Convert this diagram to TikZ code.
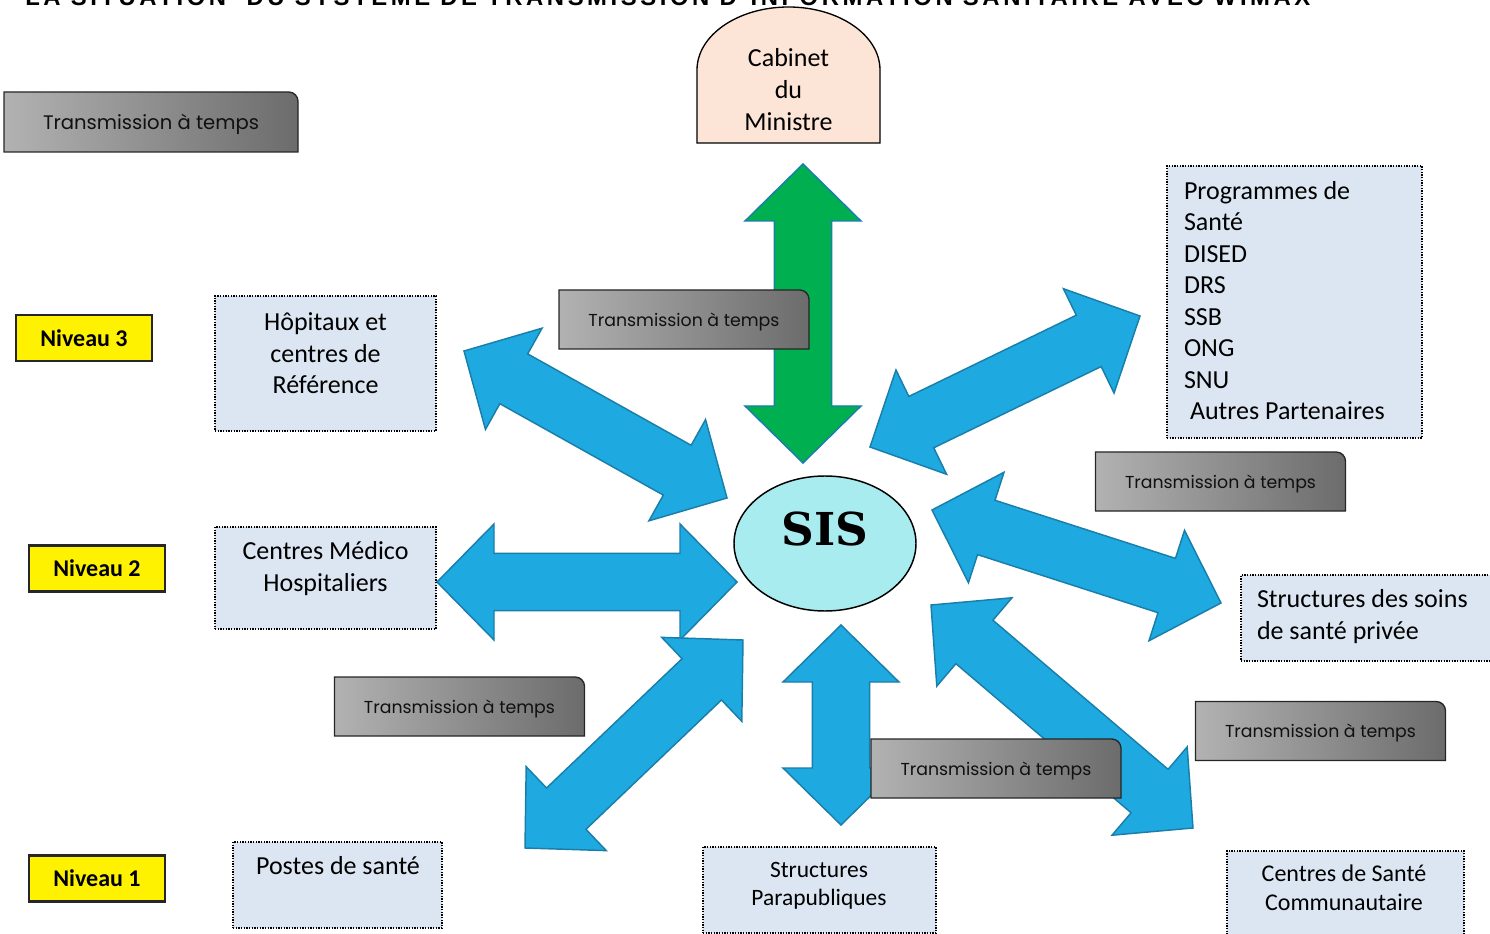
\documentclass[tikz,border=0pt]{standalone}
\usepackage{graphicx}
\usepackage{fontspec}
\setmainfont{Carlito}
\newfontfamily\tfont{Poppins}
\newfontfamily\sisfont{DejaVu Serif}
\newfontfamily\titlefont{Liberation Sans}[LetterSpace=15]
\usetikzlibrary{calc,shapes.geometric}
\pgfdeclarelayer{arrowlayer}
\pgfdeclarelayer{boxlayer}
\pgfsetlayers{arrowlayer,boxlayer,main}

\definecolor{abl}{HTML}{1EAAE0}
\definecolor{abd}{HTML}{1A7EAA}
\definecolor{agr}{HTML}{00B050}
\definecolor{boxfill}{HTML}{DCE6F2}
\definecolor{sisfill}{HTML}{A8ECEF}
\definecolor{cabfill}{HTML}{FCE4D6}
\definecolor{tleft}{HTML}{B2B2B2}
\definecolor{tright}{HTML}{6C6C6C}
\definecolor{ttext}{HTML}{101010}

% block double arrow geometry: head length, head half width, shaft half width
\def\ahl{42.75pt}
\def\ahw{43.5pt}
\def\asw{21.4pt}

\newcommand\lnstrut{\rule{0pt}{1em}}

% double-headed block arrow between two named tips
\newcommand\blockarrow[3][]{%
  \begin{pgfonlayer}{arrowlayer}
  \coordinate (ba) at ($(#2)!\ahl!(#3)$);
  \coordinate (bb) at ($(#3)!\ahl!(#2)$);
  \path[barrow,#1] (#2)
    -- ($(ba)!\ahw!90:(#3)$) -- ($(ba)!\asw!90:(#3)$)
    -- ($(bb)!\asw!-90:(#2)$) -- ($(bb)!\ahw!-90:(#2)$)
    -- (#3)
    -- ($(bb)!\ahw!90:(#2)$) -- ($(bb)!\asw!90:(#2)$)
    -- ($(ba)!\asw!-90:(#3)$) -- ($(ba)!\ahw!-90:(#3)$)
    -- cycle;
  \end{pgfonlayer}}

% grey "Transmission à temps" label with one rounded corner
\newcommand\transbox[5]{%
  \node[tlabel, minimum width=#3, minimum height=#4,
        font=\tfont\fontsize{#5}{#5}\selectfont] (#1) at (#2) {Transmission à temps};
  \begin{pgfonlayer}{boxlayer}
  \path[tshade] (#1.south west) -- (#1.north west)
    -- ([xshift=-7pt]#1.north east) arc[start angle=90,end angle=0,radius=7pt]
    -- (#1.south east) -- cycle;
  \end{pgfonlayer}}

\tikzset{
  barrow/.style={fill=abl, draw=abd, line width=1.1pt, line join=miter},
  tlabel/.style={inner sep=0pt, outer sep=0pt, text=ttext, text depth=0pt},
  tshade/.style={draw=black!85, line width=1pt, left color=tleft, right color=tright},
  dbox/.style={draw=black, line width=1pt, dash pattern=on 1pt off 1pt,
               fill=boxfill, inner sep=0pt, outer sep=0pt},
  level/.style={draw=black!85, line width=1.6pt, fill=yellow, inner sep=0pt,
                minimum width=102pt, minimum height=34.5pt,
                font=\bfseries\fontsize{18}{18}\selectfont},
  txt/.style={inner sep=0pt, outer sep=0pt, anchor=north, align=center,
              font=\fontsize{19.5}{24}\selectfont},
  ltxt/.style={txt, anchor=north west, align=left},
}

\begin{document}
\begin{tikzpicture}[x=0.75pt, y=-0.75pt]
\useasboundingbox (0,0) rectangle (1490,934);
\clip (0,0) rectangle (1490,934);

% heading, cut by the top edge
\node[anchor=base west, inner sep=0pt] (title) at (25,5.5)
  {\resizebox{963.75pt}{!}{\titlefont\bfseries\fontsize{16}{16}\selectfont
   LA SITUATION\ \ DU SYSTEME DE TRANSMISSION D’INFORMATION SANITAIRE AVEC WIMAX}};

% arrow tips
\coordinate (cabTip) at (803,164);  \coordinate (sisN)  at (803,463);
\coordinate (hopTip) at (464,351);  \coordinate (sisNW) at (727,498);
\coordinate (cmhTip) at (437,582);  \coordinate (sisW)  at (737,582);
\coordinate (prgTip) at (1140,316); \coordinate (sisNE) at (870,447);
\coordinate (sspTip) at (1221,603); \coordinate (sisE)  at (932,510);
\coordinate (cscTip) at (1193,828); \coordinate (sisSE) at (931,605);
\coordinate (parTip) at (841,825);  \coordinate (sisS)  at (841,625);
\coordinate (pdsTip) at (525,848);  \coordinate (sisSW) at (743,640);

\blockarrow[fill=agr]{cabTip}{sisN}
\blockarrow{hopTip}{sisNW}
\blockarrow{cmhTip}{sisW}
\blockarrow{sisNE}{prgTip}
\blockarrow{sisE}{sspTip}
\blockarrow{sisSE}{cscTip}
\blockarrow{sisS}{parTip}
\blockarrow{pdsTip}{sisSW}

% central system
\node[ellipse, draw=black, line width=1.1pt, fill=sisfill, inner sep=0pt,
      minimum width=136.5pt, minimum height=101.25pt] (sis) at (825,543.5) {};
\node[anchor=base, inner sep=0pt, font=\sisfont\bfseries\fontsize{34}{34}\selectfont]
  (sislabel) at (825,545) {SIS};

% minister's office
\draw[fill=cabfill, line width=1pt] (697,143) -- (697,70)
  arc[start angle=180, end angle=0, x radius=68.625pt, y radius=47.25pt]
  -- (880,143) -- cycle;
\node[txt] (cab) at (788.5,41) {\lnstrut Cabinet\\du\\Ministre};

% levels
\node[level] (niv3) at (84,338)   {Niveau 3};
\node[level] (niv2) at (97,568.5) {Niveau 2};
\node[level] (niv1) at (97,878.5) {Niveau 1};

% structures
\node[dbox, minimum width=165.75pt, minimum height=101.25pt] (hop) at (325.5,363.5) {};
\node[txt, font=\fontsize{19.5}{23.6}\selectfont] (hoptxt) at (325.5,305)
  {\lnstrut Hôpitaux et\\centres de\\Référence};

\node[dbox, minimum width=165.75pt, minimum height=76.5pt] (cmh) at (325.5,578) {};
\node[txt] (cmhtxt) at (325.5,533) {\lnstrut Centres Médico\\Hospitaliers};

\node[dbox, minimum width=156.75pt, minimum height=64.5pt] (pds) at (337.5,885) {};
\node[txt] (pdstxt) at (338,848) {\lnstrut Postes de santé};

\node[dbox, minimum width=174.75pt, minimum height=64.5pt] (par) at (819.5,890) {};
\node[txt, font=\fontsize{17.6}{21}\selectfont] (partxt) at (819,854.5)
  {\lnstrut Structures\\Parapubliques};

\node[dbox, minimum width=177.75pt, minimum height=66.75pt] (csc) at (1345.5,895.5) {};
\node[txt, font=\fontsize{18}{21.75}\selectfont] (csctxt) at (1344,857)
  {\lnstrut Centres de Santé\\Communautaire};

\node[dbox, minimum width=190.5pt, minimum height=64.5pt] (ssp) at (1368,618) {};
\node[ltxt] (ssptxt) at (1257,581) {\lnstrut Structures des soins\\de santé privée};

\node[dbox, minimum width=191.25pt, minimum height=204pt] (prg) at (1294.5,302) {};
\node[ltxt, font=\fontsize{19.5}{23.6}\selectfont] (prgtxt) at (1184,173.5)
  {\lnstrut Programmes de\\Santé\\DISED\\DRS\\SSB\\ONG\\SNU\\\hspace{4.5pt}Autres Partenaires};

% transmission labels
\transbox{tr1}{151,122}{220.5pt}{45pt}{14.7}
\transbox{tr2}{684,319.5}{187.5pt}{44.25pt}{13}
\transbox{tr3}{1220.5,481.5}{187.5pt}{44.25pt}{13}
\transbox{tr4}{459.5,706.5}{187.5pt}{44.25pt}{13}
\transbox{tr5}{1320.5,731}{187.5pt}{44.25pt}{13}
\transbox{tr6}{996,768.5}{187.5pt}{44.25pt}{13}
\end{tikzpicture}
\end{document}
